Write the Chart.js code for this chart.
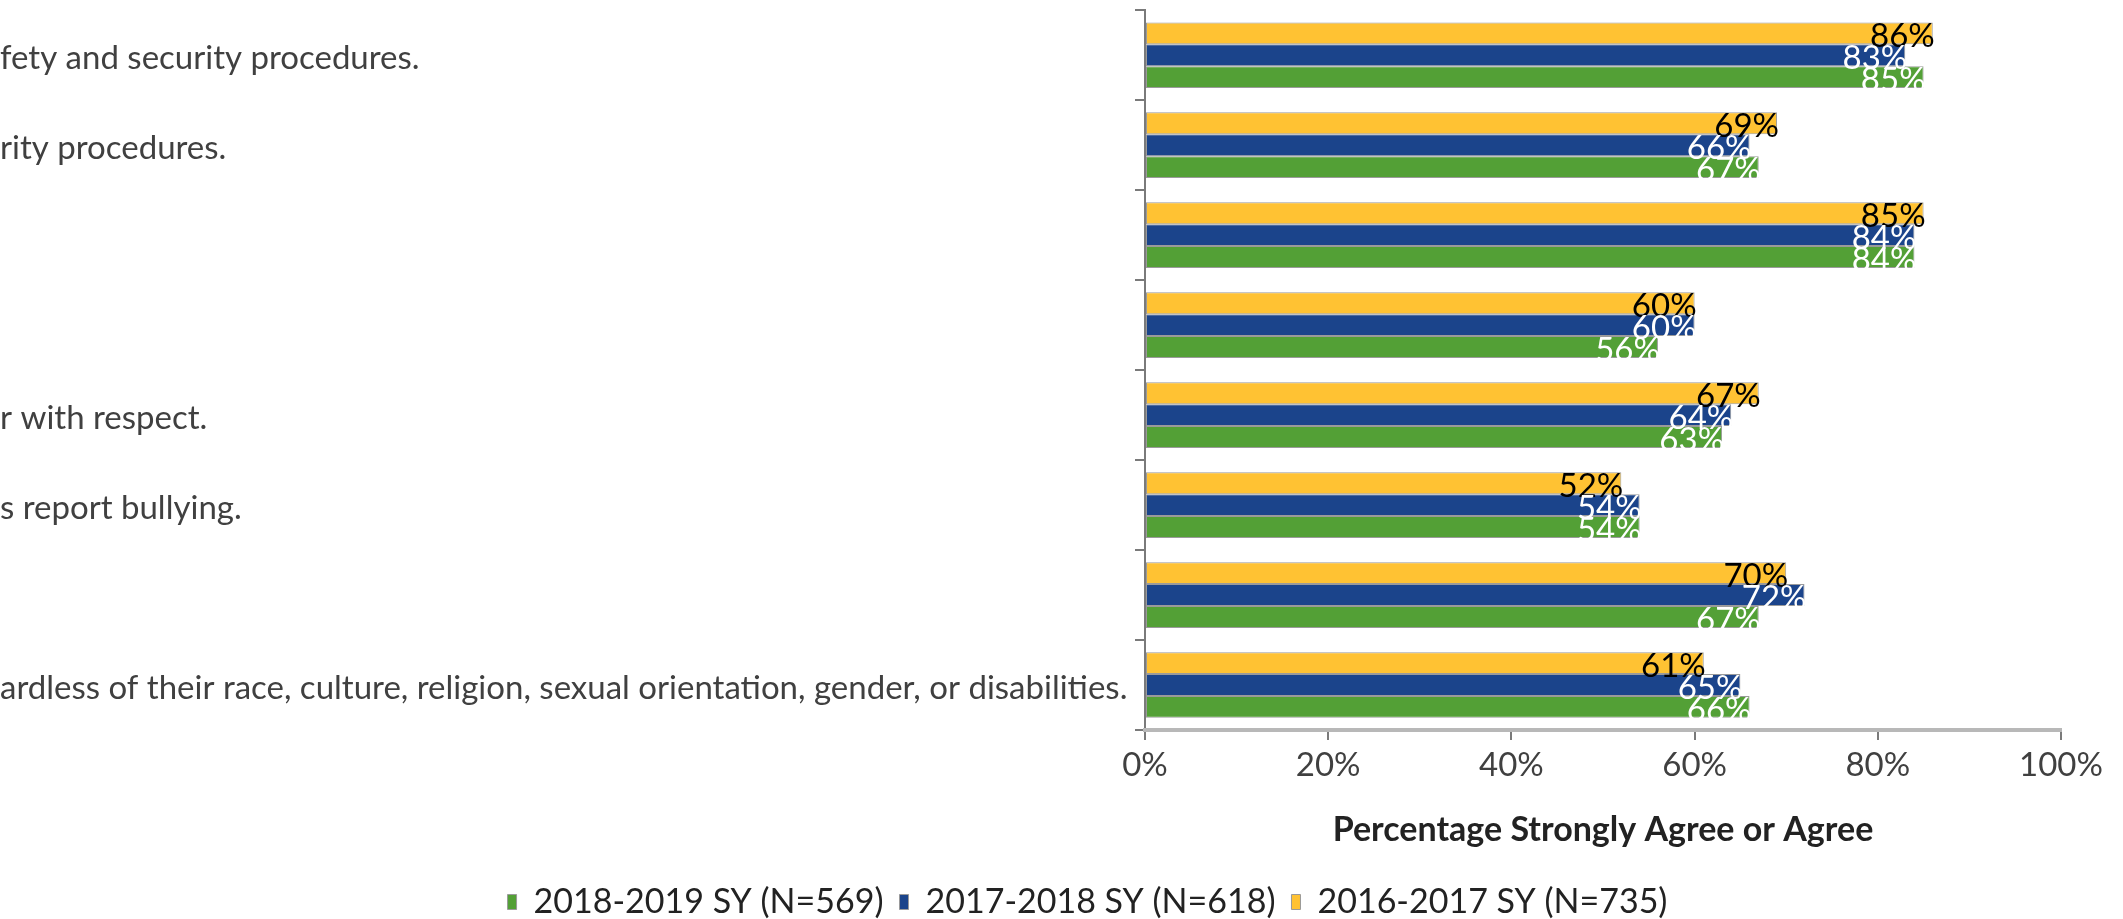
<!DOCTYPE html>
<html>
<head>
<meta charset="utf-8">
<script src="https://cdn.jsdelivr.net/npm/chart.js@4"></script>
<style>
  html, body { margin: 0; padding: 0; background: #ffffff; }
  #wrap { width: 2123px; height: 919px; position: relative; }
</style>
</head>
<body>
<div id="wrap"><canvas id="chart"></canvas></div>
<script>
// labels are cut off on the left in the source picture, kept as shown
const categories = [
  'fety and security procedures.',
  'rity procedures.',
  '',
  '',
  'r with respect.',
  's report bullying.',
  '',
  'ardless of their race, culture, religion, sexual orientation, gender, or disabilities.'
];
const sy1617 = [86, 69, 85, 60, 67, 52, 70, 61];
const sy1718 = [83, 66, 84, 60, 64, 54, 72, 65];
const sy1819 = [85, 67, 84, 56, 63, 54, 67, 66];
const xTicks = [0, 20, 40, 60, 80, 100];

const FONT = 'Lato, "Open Sans", sans-serif';

// value labels at the inner end of each bar
const barValueLabels = {
  id: 'barValueLabels',
  afterDatasetsDraw(chart) {
    const ctx = chart.ctx;
    ctx.save();
    ctx.font = '33px ' + FONT;
    ctx.textAlign = 'right';
    ctx.textBaseline = 'middle';
    chart.data.datasets.forEach((ds, i) => {
      const meta = chart.getDatasetMeta(i);
      if (meta.hidden) return;
      meta.data.forEach((bar, j) => {
        ctx.fillStyle = ds.valueColor;
        ctx.fillText(ds.data[j] + '%', bar.x + 2, bar.y + 3);
      });
    });
    ctx.restore();
  }
};

// legend sits a bit right of the canvas centre in the source
const legendShift = {
  id: 'legendShift',
  afterLayout(chart) {
    chart.legend.left += 57;
    chart.legend.right += 57;
  }
};

const ctx = document.getElementById('chart').getContext('2d');
new Chart(ctx, {
  type: 'bar',
  data: {
    labels: categories,
    datasets: [
      { label: '2016-2017 SY (N=735)', data: sy1617, backgroundColor: '#FFC233', valueColor: '#000000' },
      { label: '2017-2018 SY (N=618)', data: sy1718, backgroundColor: '#1B448B', valueColor: '#ffffff' },
      { label: '2018-2019 SY (N=569)', data: sy1819, backgroundColor: '#53A036', valueColor: '#ffffff' },
    ].map((ds) => ({
      ...ds,
      borderColor: '#9a9a9a',
      borderWidth: 1,
      borderSkipped: false,
      categoryPercentage: 0.73,
      barPercentage: 1.0,
    })),
  },
  options: {
    indexAxis: 'y',
    animation: false,
    responsive: true,
    maintainAspectRatio: false,
    layout: { padding: { top: 0, right: 62, left: 0, bottom: -10 } },
    plugins: {
      tooltip: { enabled: false },
      legend: {
        position: 'bottom',
        reverse: true,
        labels: {
          font: { family: FONT, size: 34 },
          color: '#222222',
          boxWidth: 9,
          boxHeight: 15,
          padding: 16,
        },
      },
    },
    scales: {
      y: {
        type: 'category',
        afterFit(scale) { scale.width = 1145; },
        grid: { offset: true, drawOnChartArea: false, tickLength: 10, color: '#7a7a7a', lineWidth: 2 },
        border: { color: '#7a7a7a', width: 2 },
        ticks: {
          crossAlign: 'far',
          padding: 2,
          labelOffset: 3,
          color: '#404040',
          font: { family: FONT, size: 33, lineHeight: 0.5 },
        },
      },
      x: {
        min: 0,
        max: 100,
        afterBuildTicks(scale) { scale.ticks = xTicks.map((v) => ({ value: v })); },
        afterFit(scale) { scale.height = 139; },
        grid: { drawOnChartArea: false, tickLength: 10, color: '#7a7a7a', lineWidth: 2 },
        border: { color: '#b8b8b8', width: 4 },
        ticks: {
          padding: 6,
          color: '#404040',
          font: { family: FONT, size: 33 },
          callback: (v) => v + '%',
        },
        title: {
          display: true,
          text: 'Percentage Strongly Agree or Agree',
          color: '#222222',
          font: { family: FONT, size: 34, weight: 'bold' },
          padding: { top: 10, bottom: 19 },
        },
      },
    },
  },
  plugins: [barValueLabels, legendShift],
});
</script>
</body>
</html>
